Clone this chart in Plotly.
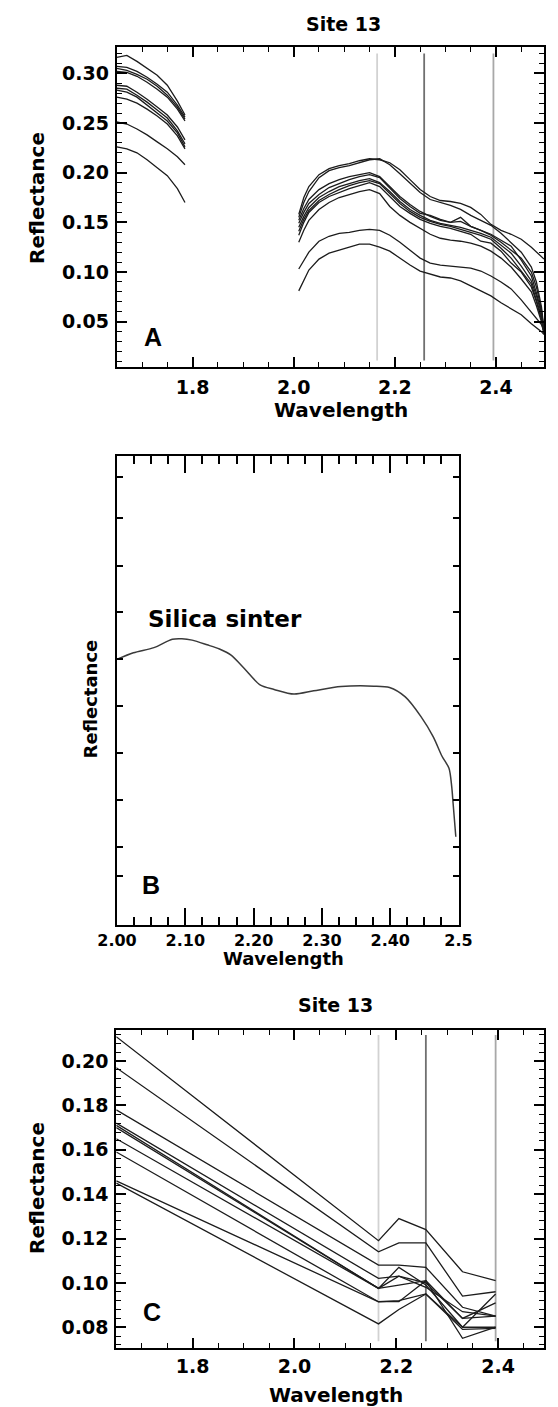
import plotly.graph_objects as go

W, H = 558, 1407

# ---------------- DATA ----------------
# Panel A: 10 field spectra, two wavelength segments (gap at water band)
wl_a1 = [1.65, 1.67, 1.69, 1.71, 1.73, 1.75, 1.77, 1.785]
refl_a1 = [
    [0.316, 0.318, 0.312, 0.305, 0.298, 0.288, 0.272, 0.258],
    [0.307, 0.306, 0.302, 0.296, 0.289, 0.281, 0.268, 0.256],
    [0.305, 0.303, 0.299, 0.294, 0.287, 0.278, 0.266, 0.254],
    [0.302, 0.301, 0.297, 0.291, 0.284, 0.276, 0.264, 0.252],
    [0.288, 0.287, 0.281, 0.274, 0.266, 0.258, 0.246, 0.233],
    [0.285, 0.284, 0.278, 0.271, 0.263, 0.255, 0.242, 0.229],
    [0.283, 0.281, 0.276, 0.268, 0.260, 0.252, 0.240, 0.226],
    [0.276, 0.274, 0.270, 0.264, 0.257, 0.249, 0.237, 0.224],
    [0.251, 0.249, 0.244, 0.238, 0.231, 0.224, 0.216, 0.208],
    [0.226, 0.224, 0.220, 0.213, 0.205, 0.197, 0.184, 0.170],
]
wl_a2 = [2.01, 2.02, 2.03, 2.05, 2.07, 2.09, 2.11, 2.13, 2.15, 2.17, 2.19, 2.21, 2.23, 2.25,
         2.27, 2.29, 2.31, 2.33, 2.35, 2.37, 2.39, 2.41, 2.43, 2.45, 2.47, 2.48, 2.49, 2.495]
refl_a2 = [
    [0.158, 0.175, 0.186, 0.198, 0.204, 0.207, 0.209, 0.212, 0.214, 0.213, 0.210, 0.203, 0.193, 0.183,
     0.176, 0.172, 0.171, 0.169, 0.165, 0.158, 0.148, 0.142, 0.138, 0.133, 0.125, 0.120, 0.116, 0.113],
    [0.155, 0.170, 0.181, 0.195, 0.202, 0.205, 0.207, 0.210, 0.213, 0.214, 0.208, 0.199, 0.190, 0.180,
     0.173, 0.170, 0.167, 0.163, 0.157, 0.152, 0.147, 0.139, 0.130, 0.120, 0.105, 0.090, 0.065, 0.042],
    [0.152, 0.164, 0.173, 0.183, 0.189, 0.193, 0.196, 0.198, 0.200, 0.196, 0.186, 0.176, 0.168, 0.161,
     0.156, 0.152, 0.150, 0.151, 0.146, 0.142, 0.137, 0.130, 0.122, 0.114, 0.100, 0.085, 0.062, 0.040],
    [0.149, 0.160, 0.169, 0.178, 0.185, 0.189, 0.193, 0.196, 0.198, 0.195, 0.185, 0.174, 0.166, 0.159,
     0.157, 0.153, 0.150, 0.155, 0.146, 0.142, 0.138, 0.132, 0.126, 0.112, 0.096, 0.079, 0.060, 0.040],
    [0.145, 0.156, 0.165, 0.175, 0.181, 0.186, 0.189, 0.192, 0.194, 0.190, 0.181, 0.171, 0.163, 0.157,
     0.152, 0.149, 0.147, 0.145, 0.142, 0.139, 0.135, 0.127, 0.119, 0.106, 0.091, 0.076, 0.058, 0.039],
    [0.141, 0.153, 0.162, 0.172, 0.178, 0.183, 0.187, 0.190, 0.192, 0.189, 0.179, 0.169, 0.161, 0.155,
     0.151, 0.148, 0.146, 0.143, 0.140, 0.137, 0.133, 0.124, 0.114, 0.101, 0.088, 0.072, 0.055, 0.038],
    [0.137, 0.150, 0.160, 0.170, 0.176, 0.180, 0.184, 0.187, 0.190, 0.186, 0.176, 0.166, 0.159, 0.153,
     0.149, 0.146, 0.144, 0.141, 0.138, 0.131, 0.129, 0.121, 0.109, 0.100, 0.085, 0.070, 0.052, 0.038],
    [0.130, 0.142, 0.152, 0.163, 0.170, 0.175, 0.178, 0.181, 0.183, 0.179, 0.166, 0.157, 0.150, 0.144,
     0.138, 0.134, 0.132, 0.131, 0.129, 0.126, 0.121, 0.114, 0.105, 0.093, 0.080, 0.066, 0.050, 0.038],
    [0.103, 0.112, 0.120, 0.131, 0.136, 0.139, 0.140, 0.142, 0.143, 0.142, 0.137, 0.130, 0.122, 0.114,
     0.109, 0.107, 0.106, 0.105, 0.104, 0.101, 0.096, 0.090, 0.083, 0.072, 0.060, 0.054, 0.047, 0.040],
    [0.081, 0.092, 0.102, 0.113, 0.119, 0.122, 0.125, 0.128, 0.128, 0.125, 0.121, 0.114, 0.107, 0.101,
     0.098, 0.095, 0.094, 0.091, 0.086, 0.081, 0.076, 0.069, 0.063, 0.057, 0.048, 0.044, 0.040, 0.037],
]

# Panel B: library spectrum of silica sinter (relative reflectance, unlabeled axis)
wl_b = [2.000, 2.024, 2.054, 2.081, 2.095, 2.110, 2.132, 2.150, 2.167, 2.186, 2.210, 2.230, 2.259,
        2.288, 2.328, 2.376, 2.399, 2.422, 2.445, 2.463, 2.476, 2.486, 2.490, 2.492, 2.496]
refl_b = [0.566, 0.580, 0.591, 0.609, 0.610, 0.607, 0.597, 0.588, 0.575, 0.547, 0.511, 0.502, 0.492,
          0.499, 0.508, 0.509, 0.506, 0.486, 0.444, 0.401, 0.359, 0.334, 0.295, 0.260, 0.188]

# Panel C: resampled spectra at band positions
wl_c = [1.65, 2.165, 2.205, 2.258, 2.33, 2.395]
refl_c = [
    [0.211, 0.119, 0.129, 0.124, 0.105, 0.101],
    [0.197, 0.114, 0.118, 0.118, 0.094, 0.096],
    [0.178, 0.108, 0.108, 0.107, 0.089, 0.085],
    [0.172, 0.102, 0.103, 0.100, 0.084, 0.085],
    [0.171, 0.0975, 0.107, 0.099, 0.080, 0.095],
    [0.170, 0.0975, 0.099, 0.101, 0.075, 0.080],
    [0.165, 0.0975, 0.103, 0.098, 0.087, 0.085],
    [0.159, 0.0915, 0.0915, 0.101, 0.084, 0.091],
    [0.146, 0.0915, 0.0920, 0.095, 0.080, 0.080],
    [0.145, 0.0815, 0.088, 0.095, 0.079, 0.0795],
]

# Band marker wavelengths (vertical lines) and their colours
band_wl = [2.165, 2.258, 2.395]
band_colors = ["#d2d2d2", "#707070", "#a8a8a8"]
band_span_a = [0.011, 0.320]
band_span_c = [0.0737, 0.2117]

# ---------------- FIGURE ----------------
fig = go.Figure()
LINE = dict(color="#1c1c1c", width=1.3)

# Panel A
for b, r in zip(band_wl, band_colors):
    fig.add_trace(go.Scatter(x=[b, b], y=band_span_a, mode="lines",
                             line=dict(color=r, width=1.8), xaxis="x", yaxis="y",
                             showlegend=False, hoverinfo="skip"))
for s1, s2 in zip(refl_a1, refl_a2):
    fig.add_trace(go.Scatter(x=wl_a1 + [None] + wl_a2, y=s1 + [None] + s2, mode="lines",
                             line=LINE, xaxis="x", yaxis="y", showlegend=False))

# Panel B
fig.add_trace(go.Scatter(x=wl_b, y=refl_b, mode="lines",
                         line=dict(color="#3a3a3a", width=1.5, shape="spline", smoothing=0.8),
                         xaxis="x2", yaxis="y2", showlegend=False))

# Panel C
for b, r in zip(band_wl, band_colors):
    fig.add_trace(go.Scatter(x=[b, b], y=band_span_c, mode="lines",
                             line=dict(color=r, width=1.8), xaxis="x3", yaxis="y3",
                             showlegend=False, hoverinfo="skip"))
for s in refl_c:
    fig.add_trace(go.Scatter(x=wl_c, y=s, mode="lines", line=LINE,
                             xaxis="x3", yaxis="y3", showlegend=False))


def px_x(p):
    return p / W


def px_y(p):
    return 1 - p / H


TICKFONT = dict(family="DejaVu Sans", size=19, color="black", weight="bold")
common = dict(showline=True, linewidth=2, linecolor="black", mirror="ticks",
              ticks="inside", tickcolor="black", showgrid=False, zeroline=False)

fig.update_layout(
    width=W, height=H, margin=dict(l=0, r=0, t=0, b=0),
    paper_bgcolor="white", plot_bgcolor="white", showlegend=False,
    # Panel A
    xaxis=dict(domain=[px_x(103), 1.0], range=[1.65, 2.495], anchor="y",
               tickvals=[1.8, 2.0, 2.2, 2.4], ticktext=["1.8", "2.0", "2.2", "2.4"],
               ticklen=10, tickwidth=1.5, tickfont=TICKFONT, ticklabelstandoff=2,
               minor=dict(ticks="inside", dtick=0.05, tick0=1.65, ticklen=5, tickwidth=1.2, tickcolor="black"),
               **common),
    yaxis=dict(domain=[px_y(367.3), px_y(47)], range=[0.0041, 0.3265], anchor="x",
               tickvals=[0.05, 0.10, 0.15, 0.20, 0.25, 0.30],
               ticktext=["0.05", "0.10", "0.15", "0.20", "0.25", "0.30"],
               ticklen=10, tickwidth=1.5, tickfont=TICKFONT, ticklabelstandoff=2,
               minor=dict(ticks="inside", dtick=0.01, tick0=0, ticklen=5, tickwidth=1.2, tickcolor="black"),
               **common),
    # Panel B
    xaxis2=dict(domain=[px_x(103.3), px_x(467)], range=[2.0, 2.5], anchor="y2",
                tickvals=[2.0, 2.1, 2.2, 2.3, 2.4, 2.5],
                ticktext=["2.00", "2.10", "2.20", "2.30", "2.40", "2.5"],
                ticklen=17, tickwidth=1.8, ticklabelstandoff=0,
                tickfont=dict(family="DejaVu Sans", size=16, color="black", weight="bold"),
                minor=dict(ticks="inside", dtick=0.025, tick0=2.0, ticklen=8, tickwidth=1.8, tickcolor="black"),
                **common),
    yaxis2=dict(domain=[px_y(925), px_y(455.7)], range=[0, 1], anchor="x2",
                tickvals=[0.104, 0.167, 0.266, 0.366, 0.467, 0.567, 0.666, 0.766, 0.868, 0.954],
                showticklabels=False, ticklen=6, tickwidth=1.5, **common),
    # Panel C
    xaxis3=dict(domain=[px_x(102.5), 1.0], range=[1.65, 2.49], anchor="y3",
                tickvals=[1.8, 2.0, 2.2, 2.4], ticktext=["1.8", "2.0", "2.2", "2.4"],
                ticklen=10, tickwidth=1.5, tickfont=TICKFONT, ticklabelstandoff=0,
                minor=dict(ticks="inside", dtick=0.05, tick0=1.65, ticklen=5, tickwidth=1.2, tickcolor="black"),
                **common),
    yaxis3=dict(domain=[px_y(1348.3), px_y(1030)], range=[0.0705, 0.214], anchor="x3",
                tickvals=[0.08, 0.10, 0.12, 0.14, 0.16, 0.18, 0.20],
                ticktext=["0.08", "0.10", "0.12", "0.14", "0.16", "0.18", "0.20"],
                ticklen=10, tickwidth=1.5, tickfont=TICKFONT, ticklabelstandoff=2,
                minor=dict(ticks="inside", dtick=0.004, tick0=0, ticklen=5, tickwidth=1.2, tickcolor="black"),
                **common),
)


def label(text, x, y, size, angle=0, family="DejaVu Sans"):
    fig.add_annotation(text=text, x=px_x(x), y=px_y(y), xref="paper", yref="paper",
                       showarrow=False, textangle=angle, xanchor="center", yanchor="middle",
                       font=dict(family=family, size=size, color="black", weight="bold"))


# Panel A texts
label("Site 13", 344, 24, 19)
label("Wavelength", 342, 410, 20)
label("Reflectance", 18, 198, 20, angle=-90)
label("A", 142, 337, 25, family="Liberation Sans")
# Panel B texts
label("Silica sinter", 218, 619, 23)
label("Reflectance", 75, 699, 18, angle=-90)
label("B", 140, 885, 25, family="Liberation Sans")
label("Wavelength", 281, 958, 18)
# Panel C texts
label("Site 13", 336, 1005, 19)
label("Wavelength", 336, 1395, 20)
label("Reflectance", 18, 1188, 20, angle=-90)
label("C", 141, 1312, 25, family="Liberation Sans")

fig.write_html("out.html")
